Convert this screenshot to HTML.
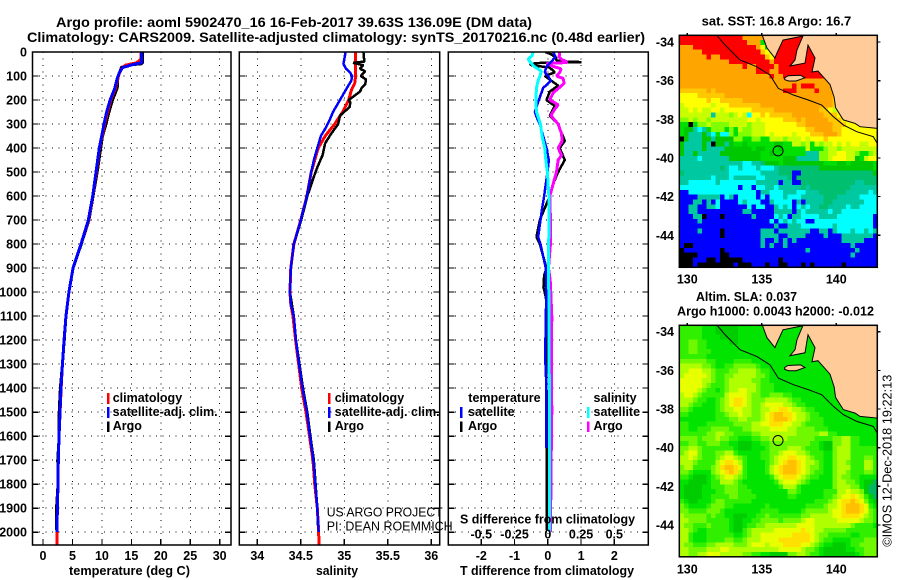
<!DOCTYPE html>
<html lang="en">
<head>
<meta charset="utf-8">
<title>Argo profile 5902470_16</title>
<style>
html,body{margin:0;padding:0;background:#fff;}
svg{display:block;}
text{font-family:"Liberation Sans",sans-serif;font-size:12.5px;font-weight:bold;fill:#000;}
.thin{font-weight:normal;}
.title{font-size:14px;}
.frame{fill:none;stroke:#000;stroke-width:1.5;}
</style>
</head>
<body>
<svg id="chart" xmlns="http://www.w3.org/2000/svg" width="900" height="580" viewBox="0 0 900 580">
  <defs>
    <clipPath id="clip-sst"><rect x="679.3" y="35.3" width="198" height="232"/></clipPath>
    <clipPath id="clip-sla"><rect x="679.3" y="325.3" width="198" height="231.5"/></clipPath>
    <clipPath id="clip-temp"><rect x="32.5" y="52" width="198.5" height="493"/></clipPath>
    <clipPath id="clip-sal"><rect x="239.3" y="52" width="200.4" height="493"/></clipPath>
    <clipPath id="clip-diff"><rect x="448.3" y="52" width="200" height="493"/></clipPath>
  </defs>

  <g id="layer-grid"></g>
  <g id="layer-maps"></g>
  <g id="layer-lines"></g>

  <rect class="frame" x="32.5" y="52" width="198.5" height="493"/>
  <rect class="frame" x="239.3" y="52" width="200.4" height="493"/>
  <rect class="frame" x="448.3" y="52" width="200" height="493"/>
  <rect class="frame" x="679.3" y="35.3" width="198" height="232"/>
  <rect class="frame" x="679.3" y="325.3" width="198" height="231.5"/>

  <g id="layer-ticks"></g>

  <text class="title" x="56" y="27" textLength="476" lengthAdjust="spacingAndGlyphs">Argo profile: aoml 5902470_16 16-Feb-2017 39.63S 136.09E (DM data)</text>
  <text class="title" x="27" y="42" textLength="618" lengthAdjust="spacingAndGlyphs">Climatology: CARS2009. Satellite-adjusted climatology: synTS_20170216.nc (0.48d earlier)</text>

  <text x="69" y="575" textLength="121" lengthAdjust="spacingAndGlyphs">temperature (deg C)</text>
  <text x="316" y="575" textLength="42" lengthAdjust="spacingAndGlyphs">salinity</text>
  <text x="460" y="523.5" textLength="175" lengthAdjust="spacingAndGlyphs">S difference from climatology</text>
  <text x="460" y="575" textLength="174" lengthAdjust="spacingAndGlyphs">T difference from climatology</text>

  <g>
    <rect x="107" y="393" width="2.5" height="11" fill="#ff0000"/>
    <text x="112.7" y="402">climatology</text>
    <rect x="107" y="407" width="2.5" height="11" fill="#0000ff"/>
    <text x="112.7" y="416" textLength="105" lengthAdjust="spacingAndGlyphs">satellite-adj. clim.</text>
    <rect x="107" y="421.5" width="2.5" height="10.5" fill="#000"/>
    <text x="112.7" y="430">Argo</text>
  </g>
  <g>
    <rect x="328" y="393" width="2.5" height="11" fill="#ff0000"/>
    <text x="334.7" y="402">climatology</text>
    <rect x="328" y="407" width="2.5" height="11" fill="#0000ff"/>
    <text x="334.7" y="416" textLength="105" lengthAdjust="spacingAndGlyphs">satellite-adj. clim.</text>
    <rect x="328" y="421.5" width="2.5" height="10.5" fill="#000"/>
    <text x="334.7" y="430">Argo</text>
  </g>
  <g>
    <text x="468.3" y="402">temperature</text>
    <rect x="460" y="407" width="2.5" height="11" fill="#0000ff"/>
    <text x="468" y="416">satellite</text>
    <rect x="460" y="421.5" width="2.5" height="10.5" fill="#000"/>
    <text x="468" y="430">Argo</text>
    <text x="593.5" y="402">salinity</text>
    <rect x="587" y="407" width="2.5" height="11" fill="#00ffff"/>
    <text x="593.5" y="416">satellite</text>
    <rect x="587" y="421.5" width="2.5" height="10.5" fill="#ff00ff"/>
    <text x="593.5" y="430">Argo</text>
  </g>

  <text class="thin" x="326.7" y="516.5" textLength="116" lengthAdjust="spacingAndGlyphs">US ARGO PROJECT</text>
  <text class="thin" x="326.7" y="530.5" textLength="126" lengthAdjust="spacingAndGlyphs">PI: DEAN ROEMMICH</text>

  <text x="701.7" y="25.5" textLength="149.5" lengthAdjust="spacingAndGlyphs">sat. SST: 16.8 Argo: 16.7</text>
  <text x="696" y="301" textLength="101" lengthAdjust="spacingAndGlyphs">Altim. SLA: 0.037</text>
  <text x="677" y="315.5" textLength="197" lengthAdjust="spacingAndGlyphs">Argo h1000: 0.0043 h2000: -0.012</text>

  <text class="thin" transform="translate(891.7 546.7) rotate(-90)" textLength="172" lengthAdjust="spacingAndGlyphs">©IMOS 12-Dec-2018 19:22:13</text>
</svg>

<script>
// ---------- axis tick values ----------
const depthTicks = [0,100,200,300,400,500,600,700,800,900,1000,1100,1200,1300,1400,1500,1600,1700,1800,1900,2000];
const tempTicks = [0,5,10,15,20,25,30];
const salTicks = [34,34.5,35,35.5,36];
const salTickLabels = ['34','34.5','35','35.5','36'];
const dTTicks = [-2,-1,0,1,2];
const dSTicks = [-0.5,-0.25,0,0.25,0.5];
const dSTickLabels = ['-0.5','-0.25','0','0.25','0.5'];
const lonTicks = [130,135,140];
const latTicks = [-34,-36,-38,-40,-42,-44];

// ---------- temperature profiles ----------
const tempClimDepth = [0,30,45,55,70,100,150,200,250,300,400,500,600,700,800,900,1000,1100,1200,1300,1400,1500,1600,1700,1800,1900,2000,2053];
const tempClimValue = [16.7,16.6,15.9,14,13.3,12.8,12.3,11.5,10.95,10.45,9.6,9.05,8.45,7.75,6.45,5.1,4.4,3.9,3.57,3.3,3.08,2.9,2.72,2.6,2.55,2.43,2.4,2.38];
const tempSatDepth = [0,45,52,65,85,110,150,200,250,300,400,500,600,700,800,900,1000,1100,1200,1300,1400,1500,1600,1700,1800,1900,2000];
const tempSatValue = [16.75,16.75,15.3,13.5,12.97,12.6,12.2,11.4,10.8,10.36,9.56,9,8.44,7.7,6.45,5.1,4.4,3.9,3.57,3.3,3.05,2.89,2.72,2.6,2.55,2.43,2.4];
const tempArgoDepth = [0,45,50,53,58,65,85,110,150,200,250,300,350,400,450,500,600,700,800,900,1000,1100,1200,1300,1400,1500,1600,1700,1800,1900,1990];
const tempArgoValue = [16.9,16.9,16.6,14.5,13.9,13.3,13,12.7,12.6,11.8,11.2,10.7,10.1,9.8,9.5,9.2,8.5,7.8,6.5,5.1,4.4,3.9,3.6,3.3,2.95,2.75,2.75,2.5,2.55,2.3,2.3];

// ---------- salinity profiles ----------
const salClimDepth = [0,60,100,130,160,200,250,300,350,400,450,500,600,700,800,900,1000,1050,1100,1200,1300,1400,1500,1600,1700,1800,1900,2000,2053];
const salClimValue = [35.13,35.13,35.13,35.12,35.08,35.05,34.98,34.89,34.78,34.7,34.66,34.62,34.57,34.5,34.42,34.385,34.375,34.385,34.41,34.44,34.475,34.51,34.56,34.6,34.64,34.66,34.69,34.705,34.71];
const salSatDepth = [0,30,50,70,85,100,120,150,200,250,280,320,350,400,450,500,600,700,800,900,1000,1050,1100,1200,1300,1400,1500,1600,1700,1800,1900,2000];
const salSatValue = [35.015,35,34.99,35.02,35.065,35.09,35.08,35.03,34.95,34.87,34.835,34.78,34.73,34.69,34.65,34.62,34.57,34.5,34.42,34.385,34.375,34.385,34.42,34.445,34.48,34.52,34.57,34.606,34.645,34.667,34.69,34.705];
const salArgoDepth = [0,40,45,55,70,80,100,115,135,150,165,200,210,230,265,300,340,380,430,480,530,600,700,800,900,1000,1100,1200,1300,1400,1500,1600,1700,1800,1900,1990];
const salArgoValue = [35.22,35.23,35.1,35.22,35.18,35.24,35.19,35.25,35.24,35.2,35.18,35.05,35.07,35.06,34.95,34.93,34.85,34.78,34.75,34.69,34.64,34.575,34.505,34.42,34.385,34.375,34.42,34.445,34.485,34.525,34.575,34.61,34.65,34.67,34.69,34.7];

// ---------- difference profiles ----------
const dTArgoDepth = [0,10,25,35,40,42,46,50,55,65,85,100,120,140,165,200,225,265,300,370,400,450,500,550,600,650,700,770,800,850,900,930,980,1020,1050,1200,1300,1500,1700,1990];
const dTArgoValue = [-0.07,0.11,0.26,0.26,0.6,1.01,-0.3,-0.54,-0.49,0.06,0.21,-0.09,0.11,0.31,0.06,-0.04,0.21,0.06,0.31,0.51,0.36,0.51,0.31,0.16,0.06,-0.09,-0.24,-0.34,-0.24,-0.14,-0.04,-0.11,-0.13,-0.06,-0.04,-0.05,-0.05,-0.03,-0.03,-0.03];
const dTSatDepth = [0,20,40,60,85,100,120,150,200,250,270,300,350,400,450,500,550,600,650,700,770,800,850,900,1000,1100,1200,1300,1400,1650];
const dTSatValue = [0.16,0.23,0.11,-0.04,-0.09,0.01,0.09,-0.14,-0.27,-0.39,-0.34,-0.24,-0.14,-0.04,0.03,-0.01,-0.06,-0.11,-0.17,-0.22,-0.29,-0.22,-0.14,-0.06,-0.04,-0.06,-0.07,-0.07,-0.04,-0.04];
const dSArgoDepth = [0,20,30,40,44,48,60,70,85,100,110,130,150,170,200,220,240,265,300,340,370,400,430,450,500,550,600,700,800,900,950,1100,1300,1500,1700,2000];
const dSArgoValue = [0.09,0.085,0.1,0.14,0.14,-0.01,0.04,0.1,0.09,0.065,0.115,0.123,0.083,0.04,0.015,0.078,0.05,0.023,0.078,0.103,0.108,0.078,0.103,0.078,0.065,0.04,0.015,0.02,0.02,0.005,0.018,0.03,0.028,0.03,0.025,0.02];
const dSSatDepth = [0,15,30,45,60,80,100,120,150,200,250,300,350,400,450,500,600,700,900,1200,1500,1800,2000];
const dSSatValue = [-0.11,-0.118,-0.148,-0.128,-0.103,-0.048,-0.06,-0.073,-0.085,-0.09,-0.085,-0.055,-0.043,-0.023,-0.015,-0.003,0.008,0.008,0.006,0.01,0.012,0.012,0.012];

// ---------- map grids (one letter per cell, rows north to south) ----------
const sstRows = [
"RRRRRRRRRR RRRROOOOOO ORRRRRRRRR RRRROOOOOO OOOO",
"RRRRRRRRRR RRRRROOOGY ORRRRRRRRR RRRROOOOOO OOOO",
"OOORRRRRRR RRRRRRROYG LRRRRRRRRR RRRRROOOOO OOOO",
"OOOOORRRRR RRRRRRRRAY LRRRRRRRRR RRRRROOOOO OOOO",
"OOOOOOROOR RRRRRRRRRA YRRRRRRRRR RRRRROOOOO OOOO",
"OOOOOOOOOO ORRRRRRRRR ORRRRRRRRR RRRRROOOOO OOOO",
"OOOOOOOOOO OOOOROORRR RORRRRRRRR RRROOOOOOO OOOO",
"OOOOOOOOOO OOOOOOORRR OORRRRRRRR RRROOOOOOO OOOO",
"OOOOOOOOOO OOOOOOOOOO ROORRRRRRR RRRRROOOOO OOOO",
"OOOOOOOOOO OOOOOOOOOO OOOOOOOOOO OOOOOOOOOO OOOO",
"OOOOOOOOOO OOOOOOOOOO OOOOORORRR OOOOOOOOOO OOOO",
"AAAAAAOAOO OOOOOOOOOO OOORRROOOO ROOOOOOOOO OOOO",
"YYYYAAAAAA OOOOOOOOOO OOOOOOOOOO OOOOAAAOOO OOOO",
"YYYYYYAYYA AAAAOOOOOO OOOOOOOOOO OOOOAAYYOO OOOO",
"LYYYYYYLYY YAAAAAAAOO OOOOOOOOOO OOOOAYYLOO OOOO",
"LLYLYLLYYL YYYYYYAAAA AOOOOOOOOO OAAYLLMOOO OOOO",
"LLLLLLLTLL LMLYLCYYAY AAAAAOOOOO OOAAAYLMDO OOOO",
"MMLMLLMLLL LLLLLYYLYY YYYAAAOAOO OOOAAAYYLM GOOO",
"GGKGMMLMMM MLLLLMLLLY YYYYYYAAOO OOOOAAAYYY YLMG",
"GDDTCTGMMM GMGLMMLLLY YYYYYYYYAA OOOOAAYYYY YYYY",
"GDTTTDTCGC CMGMMMLLLY LYYYYLYYYA AAOOOAYYYY YYYY",
"KDTTTDDTDD DDMMGGMMGG LLLMLLLYLY YYAYYYYYYY YYYY",
"DTTTTDTKDD TDGGDGGGGG GDDGGLLMLG LMLLYLYLYY LLYY",
"DTTTTDTTTT DDDDDDGDDG GGDGGGGGLG GGMLLMLLLL LLLL",
"DTTDTTTTTD DDDDDDDDGG DGGGGGGGTT TMMLLYYLLM GGML",
"TTTTCTTTTT TDDDDDDDGG GGGDDDTTTT TMMLYYYLLD GLYY",
"TTTTTTTTTT TTTTCCTTSD DDGDDDDDDD DDGGGDDGDD DDDG",
"TTTTTTTTTS TCCTCCCTCC CTSSSSSSSS SDDDDDDDDD DDDG",
"STTTTTTTTT TCCCCCCCTT TTSSSBBSSS SSSSSSSSSS SSSD",
"TTTTTTTCTT TCTTTTTCCT TTTTSBSSSS SSSSSSSSSS SSSS",
"TTCCCCCCTC CCCCCCCTTT TTBTTBBSSS SSSSSSSSST TSSS",
"CCCCCCCCCC CCCBCCBCCT TCTTTTTSTS SSSSSSSSTT TTTT",
"BBCCCCCCCC CCCCCCCBTT CCCTTTCCTT TSSSSSSTTT TTCT",
"BBBBTTTTTB CTBCCCCBCB CCCTCCCTTT TTSSSTTTTT CCCC",
"BBBTTBTBCB BBBCTCCCBB TCCCCBTBTT TTSSTTTTTT TCCC",
"BBTTBBTTCB BBBBBCBCCB BTCTCBCTCT TSSTTTTCTT CCCC",
"BBTTBBBBBB BBBBTTBBBB BTTTTBTCTT TTTCTTCCCC CCCC",
"BBBTTKBBBK BBBBBBTBBB BCTCBTTCCC CTTTTCCCCC CCCB",
"BBBBTBBBBB BBBBBBBBBB CBCTCTCCBB CCCCCCCCCC CCCB",
"BBBBBBBBBB BBBBBBBBBB BTBBTTTCCC CCCCTCCCCC CCCB",
"BBBBTBBBBK BBBBBBBBTT TBTTTTTTTB BTTBTCCCTC CTCT",
"BBBBBBBBBK BBBBBBBBTT TTBBTTTTBB BBTBBBTTTT TTTB",
"BBBBBBBBBB BBBBBBBBTB BTBTBTBBBB BBBBBBTTTT TBBB",
"BKKBBBBBBB BBBBBBBBTB TBBTBBBBBB BBBBBBBBTB BBBB",
"KBBBBBBBBK BBBBBBBBBB BBBBBBBBTB BBBBBBBBBT BBBB",
"KKKKBBBBBK KBBBBBBBBB BBBBBBBBBB BBBBBBBBTB BBBB",
"KKKBBBKKBK KKKKBBBBBB BBKBBBBBBB BBBBBBBBBB BBBB",
"KKKBKKKKKK KKBKKKBBBK BBKKBBBKBK BBBBBBKBBB BBBB"
];
const slaRows = [
"3333322211 1112222222 2222222222 2222222222 2222",
"3333322211 1112222222 2222222222 2222222222 2222",
"3333322221 1112222222 2222222222 2222222222 2222",
"3344332222 2112222222 2222222222 2222222222 2222",
"3344332222 2222222222 2222222222 2222222222 2222",
"3344333222 2222222222 2222222222 2222222222 2222",
"3333332222 2222222222 2222222222 2222222222 2222",
"4444443322 2233332222 2222222222 2222222222 2222",
"5555544322 3344444322 2222222222 2222222222 2222",
"5566655433 3445555433 2222222222 2222222222 2222",
"5666665433 4455555443 2222222222 2222222222 2222",
"6666655433 4555554433 2222222222 2222222222 2222",
"6666654333 4555555433 3222222222 2222222222 2222",
"6666543323 4556655433 3222222222 2222222222 2222",
"5665433333 5666654433 4443322222 2222222222 2222",
"5554332234 5677654445 5555433222 2222222222 2222",
"5543322234 5677654456 6665543322 2222222222 2222",
"4432222234 5566554455 6677655433 2222222222 2222",
"3322222233 4556554456 7887765543 3222222222 2222",
"2222222233 3445544456 7888765543 3322222222 2222",
"3322223333 3344445566 7776655433 3322222222 2222",
"3322333444 4333445555 6666554444 3332222222 2222",
"3333334455 4433334455 5555554444 4553322222 2222",
"4444344454 4332223344 5555444444 3333445533 2222",
"3344334443 3221112233 4444444443 3211445533 2222",
"4455433333 3321112223 4444555433 3211455533 3333",
"4566433344 5532222233 4456665543 3322455533 3333",
"5565433345 6654322233 4566776654 3322455533 3443",
"5554333356 7765322223 4567887655 4322455433 3553",
"4553333457 8876322223 5678887654 4322455533 3553",
"4432222456 7875322223 5678887654 3322455433 3443",
"3321112345 6654322222 3567776543 3222454433 2222",
"2211112335 5543222222 2356665432 2222455443 2110",
"2111122333 4443322222 2235553222 2222455544 2100",
"2111122233 4443332222 2222443222 2233355655 4100",
"2111122333 3443333222 2222332222 2233456676 5310",
"3211222344 3333332222 2222222222 3334567787 6421",
"4322223444 3322222223 2222222233 3345567888 7632",
"4433334443 2222222233 3322222344 4445667888 7643",
"5444443433 2211122334 3333333445 5555667777 6543",
"5544443333 3211223344 4434444566 5555566666 5443",
"5443334333 3211233445 5555556666 5555555543 3332",
"5543223333 3211345555 5666666766 5544444333 3333",
"5532223333 3322345566 6666677776 5443333322 3333",
"5532223333 4433455566 6677777776 5433222233 3444",
"5443334455 5544456665 6667777665 4322111233 4444",
"5544445556 6555555555 5566666544 3211111223 3444",
"5544556665 5555443322 1111445543 3211111112 3444"
];

// ---------- geography (lon / lat) ----------
const coastLon = [135.03,135.35,135.88,136.02,136.42,137.76,137.36,137.23,136.89,137.9,138.1,138.57,138.37,138.77,139.58,139.85,139.95,140.47,141.26,141.59,142.75,142.75];
const coastLat = [-33.65,-34.31,-34.83,-34.57,-33.9,-33.69,-34.41,-34.93,-35.24,-35.09,-34.16,-34.83,-35.55,-35.5,-36.2,-36.85,-37.4,-38.03,-38.21,-38.38,-38.47,-33.65];
const islandLon = [136.54,136.75,137.6,137.89,137.3,136.8,136.54];
const islandLat = [-35.85,-35.75,-35.72,-35.85,-36.02,-36.02,-35.95];
const shelfLon = [131.97,132.53,133.54,134.66,135.55,136.11,137.12,138.12,139.02,139.8,140.47,141.37,142.48,142.75];
const shelfLat = [-33.65,-34.15,-34.93,-35.28,-35.71,-36.4,-36.74,-37,-37.26,-37.86,-38.29,-38.64,-38.9,-39.25];
const floatLon = [136.09];
const floatLat = [-39.63];

const sstColors = {R:'#ff0000',O:'#ffa500',A:'#ffc800',Y:'#ffff00',L:'#c8ff00',M:'#80ff00',G:'#00e000',D:'#00c800',S:'#00c070',T:'#00c8a0',C:'#00ffff',B:'#0000ff',K:'#000000'};
const slaColors = {0:'#00b860',1:'#00cc00',2:'#00e400',3:'#30f000',4:'#70f800',5:'#b0ff00',6:'#e8ff00',7:'#ffe000',8:'#ffc000'};

// ---------- axis functions ----------
const yDepth = d => 52 + 0.2401 * d;
const xTemp = v => 43 + 5.89 * v;
const xSal = v => 257.3 + 87 * (v - 34);
const xDT = v => 547.8 + 33.25 * v;
const xDS = v => 547.8 + 133 * v;
const xLon = v => 687.3 + 14.9 * (v - 130);
const yLat = (v, y34) => y34 + 19.33 * (-34 - v);

const NS = 'http://www.w3.org/2000/svg';
const gridLayer = document.getElementById('layer-grid');
const mapLayer = document.getElementById('layer-maps');
const lineLayer = document.getElementById('layer-lines');
const tickLayer = document.getElementById('layer-ticks');

function make(tag, attrs, parent) {
  const el = document.createElementNS(NS, tag);
  for (const k in attrs) el.setAttribute(k, attrs[k]);
  parent.appendChild(el);
  return el;
}

function drawLabel(txt, x, y, anchor, name) {
  const el = make('text', {x: x, y: y, 'text-anchor': anchor}, tickLayer);
  el.textContent = txt;
  
  
}

function drawSegment(layer, x1, y1, x2, y2, dotted, name) {
  const el = make('line', {x1: x1, y1: y1, x2: x2, y2: y2, stroke: '#000', 'stroke-width': dotted ? 1 : 1.2, 'shape-rendering': 'crispEdges'}, layer);
  if (dotted) el.setAttribute('stroke-dasharray', '1 5.5');
  
  
}

function drawPanelAxes(left, right, xTicks, xScale, key) {
  depthTicks.forEach(d => {
    const y = yDepth(d);
    drawSegment(gridLayer, left, y, right, y, true, key + '-depth-gridline');
    drawSegment(tickLayer, left, y, left + 6, y, false, key + '-left-tick');
    drawSegment(tickLayer, right - 6, y, right, y, false, key + '-right-tick');
  });
  xTicks.forEach(v => {
    const x = xScale(v);
    drawSegment(gridLayer, x, 52, x, 545, true, key + '-x-gridline');
    drawSegment(tickLayer, x, 539, x, 545, false, key + '-bottom-tick');
  });
}

function drawProfile(depths, values, xScale, color, width, clip, name) {
  const pts = depths.map((d, i) => xScale(values[i]).toFixed(2) + ',' + yDepth(d).toFixed(2)).join(' ');
  const el = make('polyline', {points: pts, fill: 'none', stroke: color, 'stroke-width': width, 'stroke-linejoin': 'bevel', 'clip-path': 'url(#' + clip + ')', 'shape-rendering': 'crispEdges'}, lineLayer);
  
  
}

function drawGrid(rows, colors, y34, clip, name) {
  const g = make('g', {'clip-path': 'url(#' + clip + ')', 'shape-rendering': 'crispEdges'}, mapLayer);
  
  
  rows.forEach((row, r) => {
    const cells = row.replace(/ /g, '');
    for (let c = 0; c < cells.length; c++) {
      const lon0 = 129.46 + c * 0.302;
      const lat0 = -33.65 - r * 0.25;
      const x = xLon(lon0);
      const y = yLat(lat0, y34);
      const cell = make('rect', {x: x.toFixed(2), y: y.toFixed(2), width: (xLon(lon0 + 0.302) - x + 0.4).toFixed(2), height: (yLat(lat0 - 0.25, y34) - y + 0.4).toFixed(2), fill: colors[cells[c]]}, g);
      
      
    }
  });
}

function geoPoints(lons, lats, y34) {
  return lons.map((v, i) => xLon(v).toFixed(1) + ',' + yLat(lats[i], y34).toFixed(1)).join(' ');
}

function drawGeography(y34, clip, key) {
  const land = make('polygon', {points: geoPoints(coastLon, coastLat, y34), fill: '#ffcc99', stroke: '#000', 'stroke-width': 1, 'clip-path': 'url(#' + clip + ')'}, mapLayer);
  
  
  const island = make('polygon', {points: geoPoints(islandLon, islandLat, y34), fill: '#ffcc99', stroke: '#000', 'stroke-width': 1, 'clip-path': 'url(#' + clip + ')'}, mapLayer);
  
  
  const shelf = make('polyline', {points: geoPoints(shelfLon, shelfLat, y34), fill: 'none', stroke: '#000', 'stroke-width': 1, 'clip-path': 'url(#' + clip + ')'}, mapLayer);
  
  
  const marker = make('circle', {cx: xLon(floatLon[0]), cy: yLat(floatLat[0], y34), r: 5, fill: 'none', stroke: '#000', 'stroke-width': 1}, mapLayer);
  
  
}

function drawMapAxes(top, bottom, y34, labelY, key) {
  lonTicks.forEach(v => {
    drawSegment(tickLayer, xLon(v), top - 2.5, xLon(v), top, false, key + '-lon-tick');
    drawLabel(String(v), xLon(v), labelY, 'middle', key + '-lon-label');
  });
  latTicks.forEach(v => {
    const y = yLat(v, y34);
    drawSegment(tickLayer, 877.3, y, 880.3, y, false, key + '-lat-tick');
    drawLabel(String(v), 674, y + 4.5, 'end', key + '-lat-label');
  });
}

// ---------- panels ----------
drawPanelAxes(32.5, 231, tempTicks, xTemp, 'temperature');
drawPanelAxes(239.3, 439.7, salTicks, xSal, 'salinity');
drawPanelAxes(448.3, 648.3, dTTicks, xDT, 'difference');

depthTicks.forEach(d => drawLabel(String(d), 27, yDepth(d) + 4.5, 'end', 'depth-tick-label'));
tempTicks.forEach(v => drawLabel(String(v), xTemp(v), 560, 'middle', 'temperature-tick-label'));
salTicks.forEach((v, i) => drawLabel(salTickLabels[i], xSal(v), 560, 'middle', 'salinity-tick-label'));
dTTicks.forEach(v => drawLabel(String(v), xDT(v), 560, 'middle', 't-difference-tick-label'));
dSTicks.forEach((v, i) => drawLabel(dSTickLabels[i], xDS(v), 538.5, 'middle', 's-difference-tick-label'));

drawProfile(tempArgoDepth, tempArgoValue, xTemp, '#000000', 3, 'clip-temp', 'temperature-argo-line');
drawProfile(tempClimDepth, tempClimValue, xTemp, '#ff0000', 3, 'clip-temp', 'temperature-climatology-line');
drawProfile(tempSatDepth, tempSatValue, xTemp, '#0000ff', 3, 'clip-temp', 'temperature-satellite-line');

drawProfile(salClimDepth, salClimValue, xSal, '#ff0000', 3, 'clip-sal', 'salinity-climatology-line');
drawProfile(salArgoDepth, salArgoValue, xSal, '#000000', 2.5, 'clip-sal', 'salinity-argo-line');
drawProfile(salSatDepth, salSatValue, xSal, '#0000ff', 2.5, 'clip-sal', 'salinity-satellite-line');

drawProfile(dTArgoDepth, dTArgoValue, xDT, '#000000', 2.5, 'clip-diff', 't-difference-argo-line');
drawProfile(dSArgoDepth, dSArgoValue, xDS, '#ff00ff', 3, 'clip-diff', 's-difference-argo-line');
drawProfile(dTSatDepth, dTSatValue, xDT, '#0000ff', 2.5, 'clip-diff', 't-difference-satellite-line');
drawProfile(dSSatDepth, dSSatValue, xDS, '#00ffff', 3, 'clip-diff', 's-difference-satellite-line');

// ---------- maps ----------
drawGrid(sstRows, sstColors, 42, 'clip-sst', 'sst-heatmap');
drawGeography(42, 'clip-sst', 'sst-map');
drawMapAxes(35.3, 267.3, 42, 283.3, 'sst-map');

drawGrid(slaRows, slaColors, 331.7, 'clip-sla', 'sla-heatmap');
drawGeography(331.7, 'clip-sla', 'sla-map');
drawMapAxes(325.3, 556.8, 331.7, 573.3, 'sla-map');
</script>
</body>
</html>
